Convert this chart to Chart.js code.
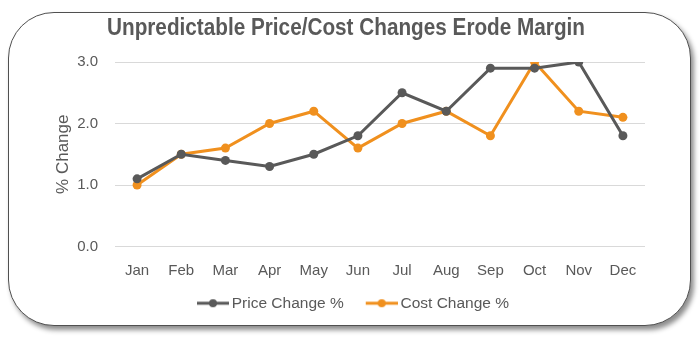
<!DOCTYPE html>
<html>
<head>
<meta charset="utf-8">
<script src="https://cdn.jsdelivr.net/npm/chart.js@4.4.0/dist/chart.umd.min.js"></script>
<style>
  html, body { margin: 0; padding: 0; background: #ffffff; }
  #wrap { position: relative; width: 700px; height: 339px; overflow: hidden; }
  #frame {
    position: absolute; left: 8px; top: 12px; width: 681px; height: 312px;
    border: 1.5px solid #505050; border-radius: 46px; background: #fff;
    box-shadow: 3px 4px 5px rgba(0,0,0,0.45);
  }
  #c { position: absolute; left: 0; top: 0; }
</style>
</head>
<body>
<div id="wrap">
  <div id="frame"></div>
  <canvas id="c" width="700" height="339"></canvas>
</div>
<script>
const months = ["Jan","Feb","Mar","Apr","May","Jun","Jul","Aug","Sep","Oct","Nov","Dec"];
const priceChange = [1.1, 1.5, 1.4, 1.3, 1.5, 1.8, 2.5, 2.2, 2.9, 2.9, 3.0, 1.8];
const costChange  = [1.0, 1.5, 1.6, 2.0, 2.2, 1.6, 2.0, 2.2, 1.8, 3.0, 2.2, 2.1];
const seriesNames = ["Price Change %", "Cost Change %"];
const yTicks = [0, 1, 2, 3];
const chartTitle = "Unpredictable Price/Cost Changes Erode Margin";

const GRAY = "#595959";
const ORANGE = "#F0901E";
const TEXT = "#595959";
const SANS = "'Liberation Sans', Arial, sans-serif";

const ICON_W = 39;
function legendIcon(color) {
  const cv = document.createElement("canvas");
  cv.width = ICON_W + 10; cv.height = 10;
  const g = cv.getContext("2d");
  const x1 = cv.width, x0 = x1 - 32;
  g.strokeStyle = color; g.lineWidth = 3;
  g.beginPath(); g.moveTo(x0, 5); g.lineTo(x1, 5); g.stroke();
  g.fillStyle = color;
  g.beginPath(); g.arc((x0 + x1) / 2, 5, 4, 0, Math.PI * 2); g.fill();
  return cv;
}

const narrowTitle = {
  id: "narrowTitle",
  afterDraw(chart) {
    const ctx = chart.ctx;
    ctx.save();
    ctx.font = "bold 23px " + SANS;
    ctx.fillStyle = TEXT;
    ctx.textBaseline = "middle";
    ctx.textAlign = "center";
    const w = ctx.measureText(chartTitle).width;
    const s = 478 / w;
    ctx.translate(346, 29);
    ctx.scale(s, 1);
    ctx.fillText(chartTitle, 0, 0);
    ctx.restore();
  }
};

new Chart(document.getElementById("c"), {
  type: "line",
  data: {
    labels: months,
    datasets: [
      { label: seriesNames[0], data: priceChange, borderColor: GRAY, backgroundColor: GRAY,
        borderWidth: 3, pointRadius: 4.5, pointBackgroundColor: GRAY, pointBorderWidth: 0,
        pointStyle: "circle", tension: 0 },
      { label: seriesNames[1], data: costChange, borderColor: ORANGE, backgroundColor: ORANGE,
        borderWidth: 3, pointRadius: 4.5, pointBackgroundColor: ORANGE, pointBorderWidth: 0,
        pointStyle: "circle", tension: 0 }
    ]
  },
  plugins: [narrowTitle],
  options: {
    responsive: false,
    animation: false,
    devicePixelRatio: 1,
    layout: { padding: { left: 49, right: 55, top: 62, bottom: 18 } },
    plugins: {
      title: { display: false },
      legend: {
        position: "bottom",
        labels: {
          color: TEXT,
          font: { family: SANS, size: 15.5 },
          boxWidth: ICON_W,
          pointStyleWidth: ICON_W,
          padding: 10,
          usePointStyle: true,
          generateLabels: (chart) => chart.data.datasets.map((ds, i) => ({
            text: ds.label,
            fontColor: TEXT,
            pointStyle: legendIcon(ds.borderColor),
            datasetIndex: i,
            hidden: false,
            lineWidth: 0
          }))
        }
      },
      tooltip: { enabled: false }
    },
    scales: {
      x: {
        offset: true,
        grid: { display: false, drawTicks: false },
        border: { display: false },
        ticks: { color: TEXT, font: { family: SANS, size: 15 }, padding: 15 },
        afterFit: (axis) => { axis.height = 39; }
      },
      y: {
        min: 0, max: 3,
        afterBuildTicks: (axis) => { axis.ticks = yTicks.map(v => ({ value: v })); },
        grid: { color: "#d9d9d9", lineWidth: 1, drawTicks: false },
        border: { display: false },
        ticks: { color: TEXT, font: { family: SANS, size: 15 }, padding: 17,
                 callback: (v) => Number(v).toFixed(1) },
        title: { display: true, text: "% Change", color: TEXT,
                 font: { family: SANS, size: 17 }, padding: { top: 4, bottom: 4 } },
        afterFit: (axis) => { axis.width = 66; }
      }
    }
  }
});
</script>
</body>
</html>
